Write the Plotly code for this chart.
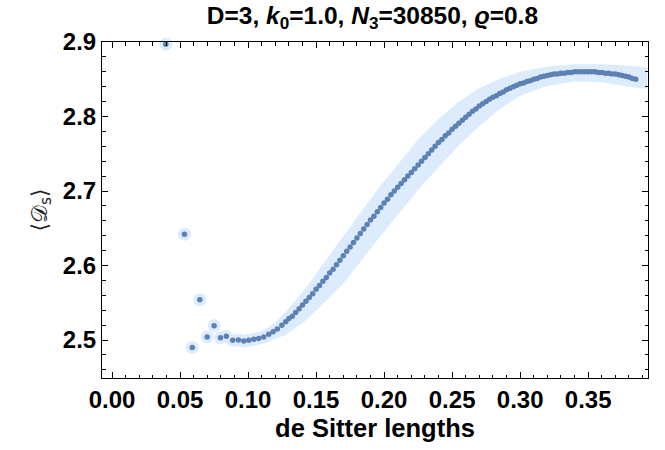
import plotly.graph_objects as go

# early / isolated points and the beginning of the curve
x_vals = [0.0395, 0.0532, 0.0590, 0.0645, 0.0699, 0.0750, 0.0797, 0.0840, 0.0887,
          0.0929, 0.0968, 0.1005, 0.1042, 0.1078, 0.1115, 0.1152, 0.1184, 0.1215,
          0.1248, 0.1277, 0.1300,
          0.1325, 0.1350, 0.1375, 0.1400, 0.1425, 0.1450, 0.1475, 0.1500, 0.1525,
          0.1550, 0.1575, 0.1600, 0.1625, 0.1650, 0.1675, 0.1700, 0.1725, 0.1750,
          0.1775, 0.1800, 0.1825, 0.1850, 0.1875, 0.1900, 0.1925, 0.1950, 0.1975,
          0.2000, 0.2025, 0.2050, 0.2075, 0.2100, 0.2125, 0.2150, 0.2175, 0.2200,
          0.2225, 0.2250, 0.2275, 0.2300, 0.2325, 0.2350, 0.2375, 0.2400, 0.2425,
          0.2450, 0.2475, 0.2500, 0.2525, 0.2550, 0.2575, 0.2600, 0.2625, 0.2650,
          0.2675, 0.2700, 0.2725, 0.2750, 0.2775, 0.2800, 0.2825, 0.2850, 0.2875,
          0.2900, 0.2925, 0.2950, 0.2975, 0.3000, 0.3025, 0.3050, 0.3075, 0.3100,
          0.3125, 0.3150, 0.3175, 0.3200, 0.3225, 0.3250, 0.3275, 0.3300, 0.3325,
          0.3350, 0.3375, 0.3400, 0.3425, 0.3450, 0.3475, 0.3500, 0.3525, 0.3550,
          0.3575, 0.3600, 0.3625, 0.3650, 0.3675, 0.3700, 0.3725, 0.3750, 0.3775,
          0.3800, 0.3825, 0.3850]

y_vals = [2.897, 2.642, 2.490, 2.554, 2.504, 2.519, 2.503, 2.505, 2.4996,
          2.500, 2.4987, 2.4996, 2.501, 2.502, 2.504, 2.5077, 2.511, 2.5148,
          2.5197, 2.5246, 2.529,
          2.532, 2.537, 2.542, 2.547, 2.552, 2.557, 2.562, 2.568, 2.573,
          2.579, 2.584, 2.590, 2.595, 2.601, 2.607, 2.613, 2.619, 2.625,
          2.631, 2.637, 2.643, 2.649, 2.655, 2.661, 2.666, 2.672, 2.678,
          2.684, 2.689, 2.695, 2.700, 2.705, 2.710, 2.715, 2.720, 2.725,
          2.730, 2.735, 2.740, 2.745, 2.750, 2.755, 2.760, 2.765, 2.769,
          2.774, 2.778, 2.783, 2.787, 2.791, 2.795, 2.799, 2.803, 2.807,
          2.810, 2.814, 2.817, 2.820, 2.823, 2.826, 2.828, 2.831, 2.833,
          2.836, 2.838, 2.840, 2.842, 2.844, 2.845, 2.847, 2.848, 2.850,
          2.851, 2.853, 2.854, 2.855, 2.856, 2.857, 2.857, 2.858, 2.858,
          2.859, 2.859, 2.860, 2.860, 2.860, 2.860, 2.860, 2.860, 2.860,
          2.859, 2.859, 2.858, 2.858, 2.857, 2.857, 2.856, 2.855, 2.854,
          2.853, 2.851, 2.850]

# uncertainty band outline (upper-left edge left->right, lower-right edge right->left)
band_x = [0.112, 0.122, 0.133, 0.1445, 0.157, 0.170, 0.183, 0.1965, 0.2105,
          0.2245, 0.239, 0.2535, 0.268, 0.285, 0.300, 0.320, 0.340, 0.360,
          0.380, 0.3935,
          0.3935, 0.380, 0.360, 0.340, 0.320, 0.300, 0.285, 0.270, 0.2555,
          0.2415, 0.2265, 0.212, 0.1975, 0.1835, 0.1695, 0.1555, 0.141, 0.128,
          0.118, 0.112]
band_y = [2.513, 2.527, 2.549, 2.575, 2.607, 2.640, 2.672, 2.705, 2.737,
          2.768, 2.795, 2.818, 2.836, 2.851, 2.860, 2.867, 2.870, 2.870,
          2.868, 2.866,
          2.837, 2.840, 2.846, 2.847, 2.841, 2.828, 2.810, 2.787, 2.762,
          2.735, 2.705, 2.672, 2.640, 2.607, 2.575, 2.549, 2.524, 2.507,
          2.500, 2.496]

x_ticks = [0.00, 0.05, 0.10, 0.15, 0.20, 0.25, 0.30, 0.35]
y_ticks = [2.5, 2.6, 2.7, 2.8, 2.9]

DOT = "#5E81B5"
HALO = "rgb(221,236,252)"
FONT = "Liberation Sans"

fig = go.Figure()
fig.add_trace(go.Scatter(x=band_x, y=band_y, mode="lines", fill="toself",
                         fillcolor=HALO, line=dict(width=0, color=HALO),
                         hoverinfo="skip", showlegend=False))
fig.add_trace(go.Scatter(x=x_vals, y=y_vals, mode="markers",
                         marker=dict(size=13, color=HALO, line=dict(width=0)),
                         showlegend=False, cliponaxis=False))
fig.add_trace(go.Scatter(x=x_vals, y=y_vals, mode="markers",
                         marker=dict(size=5.5, color=DOT, line=dict(width=0)),
                         showlegend=False, cliponaxis=False))

axis_common = dict(showline=True, linecolor="black", linewidth=1, mirror="allticks",
                   ticks="inside", tickcolor="black", tickwidth=1, ticklen=6,
                   showgrid=False, zeroline=False,
                   tickfont=dict(family=FONT, size=24, color="black", weight="bold"))

fig.update_xaxes(range=[-0.0074, 0.394], tickvals=x_ticks, tickformat=".2f",
                 minor=dict(dtick=0.01, tick0=0, ticks="inside", ticklen=3.5,
                            tickcolor="black", showgrid=False),
                 title=dict(text="de Sitter lengths", standoff=7,
                            font=dict(family=FONT, size=25.5, color="black", weight="bold")),
                 **axis_common)
fig.update_yaxes(range=[2.449, 2.9], tickvals=y_ticks, tickformat=".1f",
                 minor=dict(dtick=0.02, tick0=2.5, ticks="inside", ticklen=3.5,
                            tickcolor="black", showgrid=False),
                 title=dict(text="⟨𝒟<sub>s</sub>⟩", standoff=9,
                            font=dict(family="DejaVu Sans", size=22, color="#222")),
                 **axis_common)

fig.update_layout(
    width=665, height=450,
    margin=dict(l=102, r=17, t=42, b=72, autoexpand=False),
    plot_bgcolor="white", paper_bgcolor="white",
    title=dict(text="D=3, <i>k</i><sub>0</sub>=1.0, <i>N</i><sub>3</sub>=30850, <i>ϱ</i>=0.8",
               x=0.56, xanchor="center", y=0.965, yanchor="middle",
               font=dict(family=FONT, size=24.5, color="black", weight="bold")),
)

fig.write_html("out.html")
